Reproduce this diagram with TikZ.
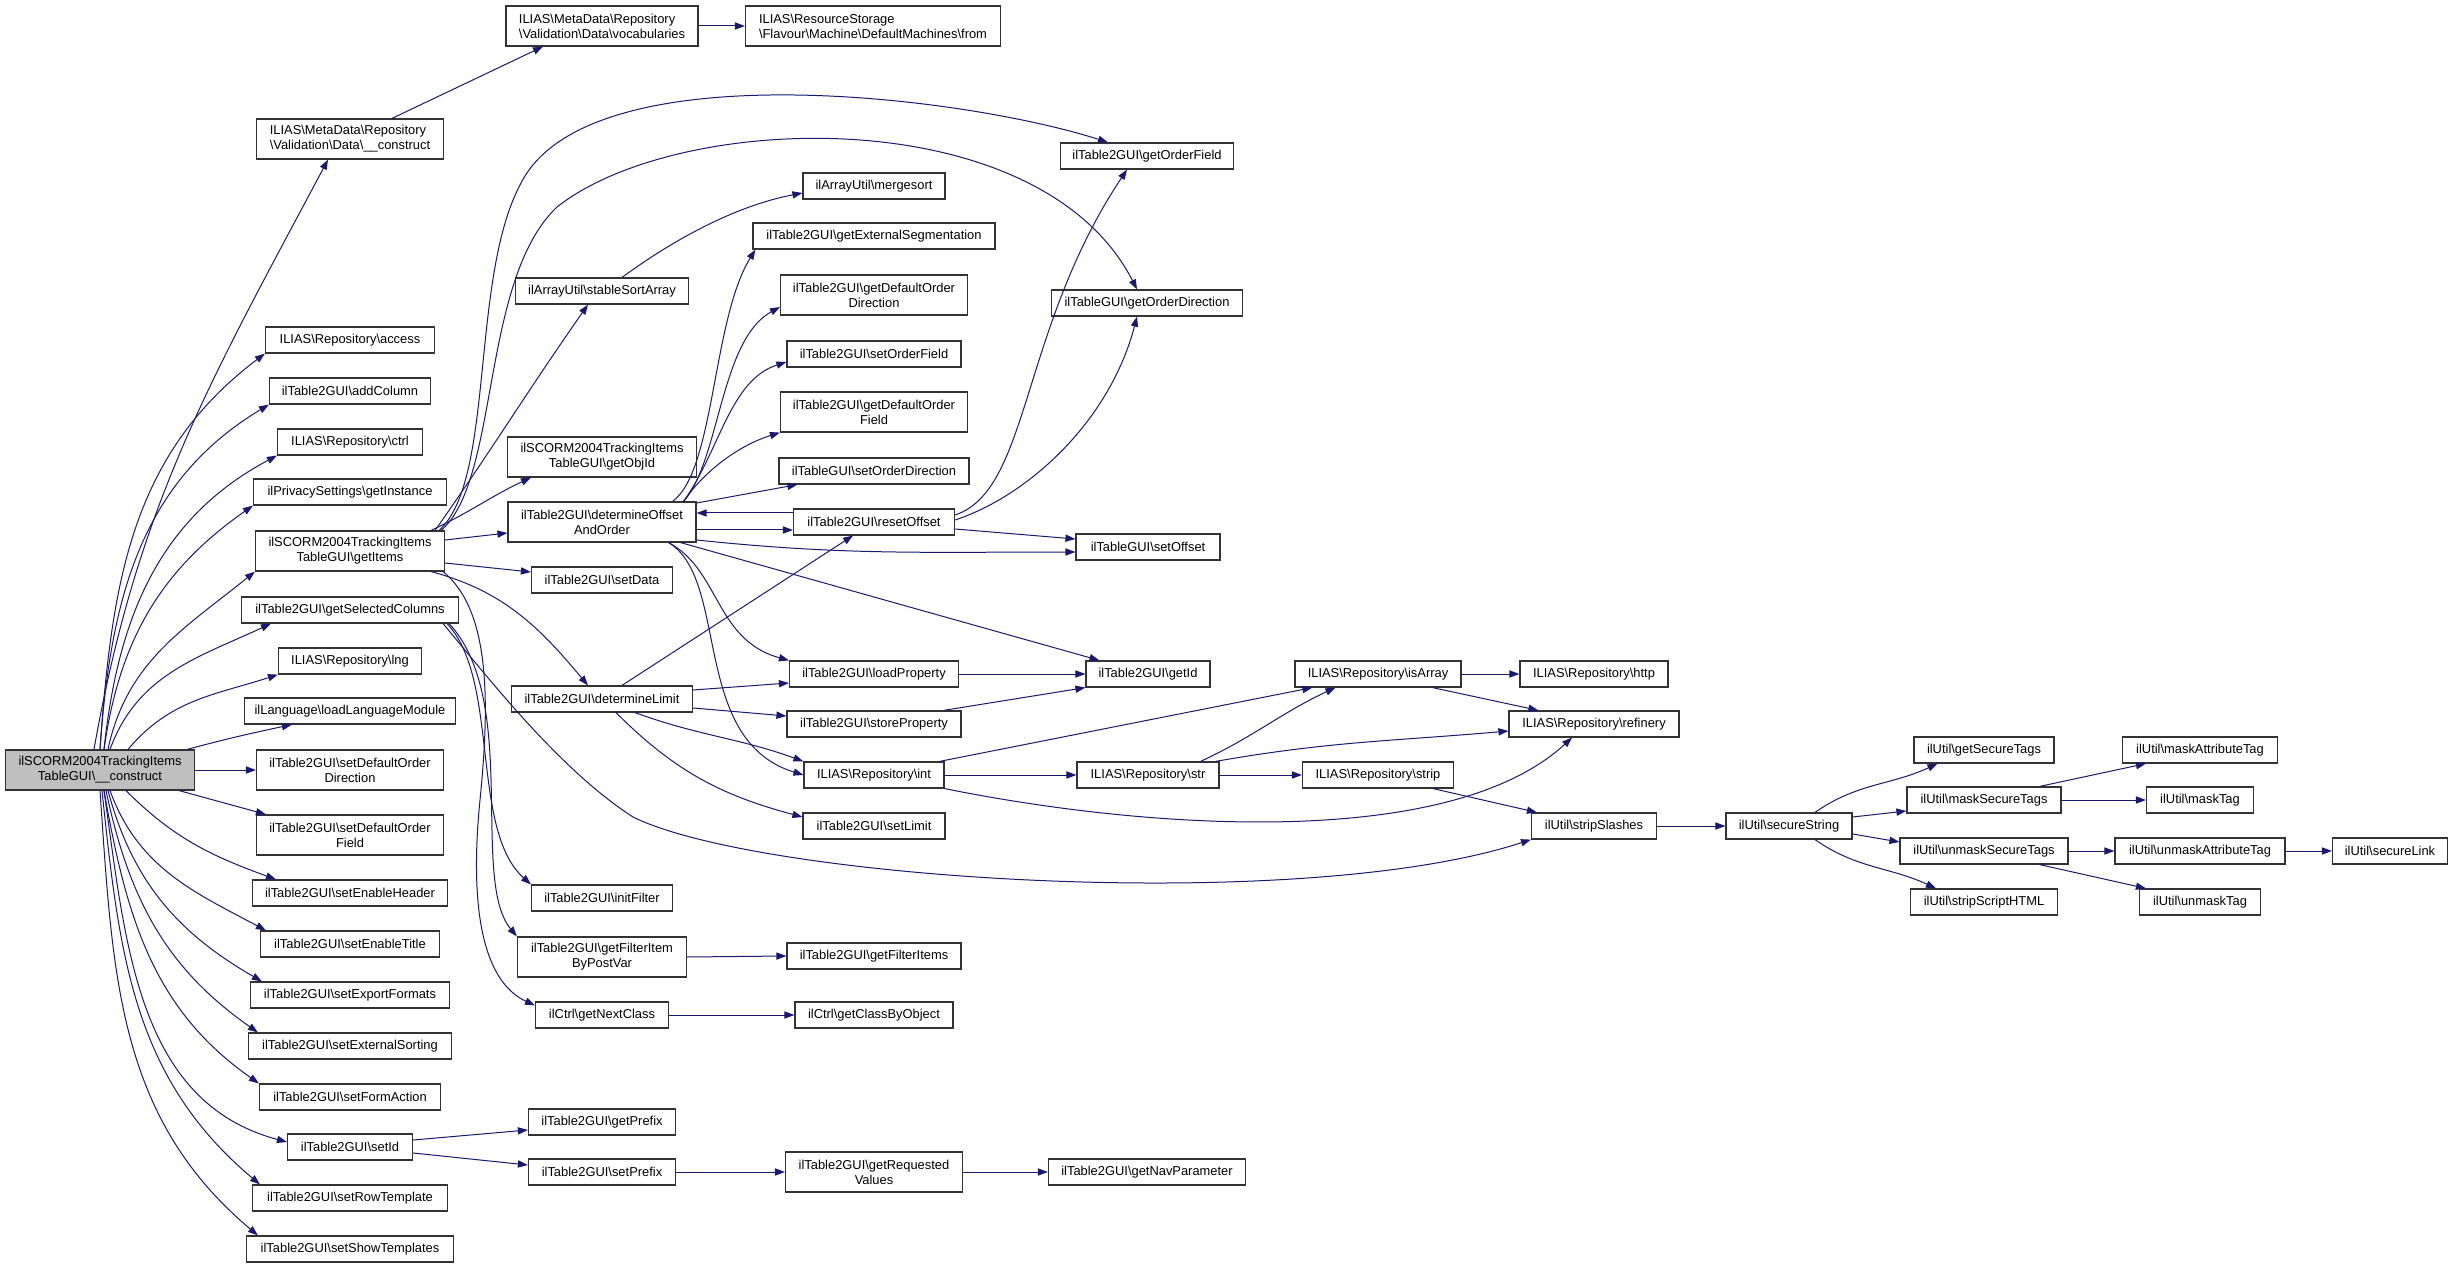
\documentclass[tikz,border=0pt]{standalone}
\usepackage{fontspec}
\setmainfont{Liberation Sans}
\usetikzlibrary{arrows.meta}
\definecolor{edgeblue}{HTML}{191970}
\definecolor{boxgray}{HTML}{333333}
\definecolor{maingray}{HTML}{BFBFBF}
\newcommand{\bsl}{\textbackslash}
\tikzset{
  fn/.style={draw=boxgray, line width=0.6pt, fill=white, inner sep=1pt,
    minimum height=13pt, align=center, font=\fontsize{6.45}{7.5}\selectfont},
  fn2/.style={fn, minimum height=20pt},
  wd/.style={minimum width=#1*0.5pt},
  call/.style={draw=edgeblue, line width=0.5pt, -{Triangle[length=5pt,width=3.6pt]}},
}
\begin{document}
\begin{tikzpicture}[x=0.5pt,y=-0.5pt]
  \path[fill=white] (0,0) rectangle (2453,1267);

  % the function itself
  \node[fn2, fill=maingray, wd=189] (main) at (100,770) {ilSCORM2004TrackingItems\\TableGUI\bsl\_\_construct};

  % first level
  \node[fn2, wd=187, align=left] (dataCon) at (350,139) {ILIAS\bsl MetaData\bsl Repository\\\bsl Validation\bsl Data\bsl\_\_construct};
  \node[fn, wd=169] (access) at (350,340) {ILIAS\bsl Repository\bsl access};
  \node[fn, wd=161] (addColumn) at (350,391) {ilTable2GUI\bsl addColumn};
  \node[fn, wd=145] (ctrl) at (350,442) {ILIAS\bsl Repository\bsl ctrl};
  \node[fn, wd=193] (getInstance) at (350,492) {ilPrivacySettings\bsl getInstance};
  \node[fn2, wd=189] (getItems) at (350,551) {ilSCORM2004TrackingItems\\TableGUI\bsl getItems};
  \node[fn, wd=217] (getSelCols) at (350,610) {ilTable2GUI\bsl getSelectedColumns};
  \node[fn, wd=143] (lng) at (350,661) {ILIAS\bsl Repository\bsl lng};
  \node[fn, wd=211] (loadLang) at (350,711) {ilLanguage\bsl loadLanguageModule};
  \node[fn2, wd=187] (setDefDir) at (350,770) {ilTable2GUI\bsl setDefaultOrder\\Direction};
  \node[fn2, wd=187] (setDefField) at (350,835) {ilTable2GUI\bsl setDefaultOrder\\Field};
  \node[fn, wd=195] (setEnHeader) at (350,893) {ilTable2GUI\bsl setEnableHeader};
  \node[fn, wd=179] (setEnTitle) at (350,944) {ilTable2GUI\bsl setEnableTitle};
  \node[fn, wd=199] (setExport) at (350,995) {ilTable2GUI\bsl setExportFormats};
  \node[fn, wd=203] (setExtSort) at (350,1046) {ilTable2GUI\bsl setExternalSorting};
  \node[fn, wd=181] (setFormAction) at (350,1097) {ilTable2GUI\bsl setFormAction};
  \node[fn, wd=125] (setId) at (350,1147) {ilTable2GUI\bsl setId};
  \node[fn, wd=195] (setRowTpl) at (350,1198) {ilTable2GUI\bsl setRowTemplate};
  \node[fn, wd=207] (setShowTpl) at (350,1249) {ilTable2GUI\bsl setShowTemplates};

  % second level
  \node[fn2, wd=192, align=left] (vocab) at (602,26) {ILIAS\bsl MetaData\bsl Repository\\\bsl Validation\bsl Data\bsl vocabularies};
  \node[fn, wd=173] (stableSort) at (602,291) {ilArrayUtil\bsl stableSortArray};
  \node[fn2, wd=189] (getObjId) at (602,457) {ilSCORM2004TrackingItems\\TableGUI\bsl getObjId};
  \node[fn2, wd=188] (detOffset) at (602,522) {ilTable2GUI\bsl determineOffset\\AndOrder};
  \node[fn, wd=141] (setData) at (602,580) {ilTable2GUI\bsl setData};
  \node[fn, wd=181] (detLimit) at (602,699) {ilTable2GUI\bsl determineLimit};
  \node[fn, wd=141] (initFilter) at (602,898) {ilTable2GUI\bsl initFilter};
  \node[fn2, wd=169] (getFilterItem) at (602,957) {ilTable2GUI\bsl getFilterItem\\ByPostVar};
  \node[fn, wd=133] (getNextClass) at (602,1015) {ilCtrl\bsl getNextClass};
  \node[fn, wd=147] (getPrefix) at (602,1122) {ilTable2GUI\bsl getPrefix};
  \node[fn, wd=147] (setPrefix) at (602,1172) {ilTable2GUI\bsl setPrefix};

  % third level
  \node[fn2, wd=255, align=left] (from) at (873,26) {ILIAS\bsl ResourceStorage\\\bsl Flavour\bsl Machine\bsl DefaultMachines\bsl from};
  \node[fn, wd=142] (mergesort) at (874,186) {ilArrayUtil\bsl mergesort};
  \node[fn, wd=242] (getExtSeg) at (874,236) {ilTable2GUI\bsl getExternalSegmentation};
  \node[fn2, wd=187] (getDefDir) at (874,295) {ilTable2GUI\bsl getDefaultOrder\\Direction};
  \node[fn, wd=174] (setOrderField) at (874,354) {ilTable2GUI\bsl setOrderField};
  \node[fn2, wd=187] (getDefField) at (874,412) {ilTable2GUI\bsl getDefaultOrder\\Field};
  \node[fn, wd=190] (setOrderDir) at (874,471) {ilTableGUI\bsl setOrderDirection};
  \node[fn, wd=161] (resetOffset) at (874,522) {ilTable2GUI\bsl resetOffset};
  \node[fn, wd=169] (loadProp) at (874,674) {ilTable2GUI\bsl loadProperty};
  \node[fn, wd=174] (storeProp) at (874,724) {ilTable2GUI\bsl storeProperty};
  \node[fn, wd=140] (int) at (874,775) {ILIAS\bsl Repository\bsl int};
  \node[fn, wd=142] (setLimit) at (874,826) {ilTable2GUI\bsl setLimit};
  \node[fn, wd=174] (getFilterItems) at (874,956) {ilTable2GUI\bsl getFilterItems};
  \node[fn, wd=158] (getClassByObj) at (874,1015) {ilCtrl\bsl getClassByObject};
  \node[fn2, wd=177] (getReqValues) at (874,1172) {ilTable2GUI\bsl getRequested\\Values};

  % fourth level and beyond
  \node[fn, wd=173] (getOrderField) at (1147,156) {ilTable2GUI\bsl getOrderField};
  \node[fn, wd=191] (getOrderDir) at (1147,303) {ilTableGUI\bsl getOrderDirection};
  \node[fn, wd=144] (setOffset) at (1148,547) {ilTableGUI\bsl setOffset};
  \node[fn, wd=124] (getId) at (1148,674) {ilTable2GUI\bsl getId};
  \node[fn, wd=142] (str) at (1148,775) {ILIAS\bsl Repository\bsl str};
  \node[fn, wd=197] (getNavParam) at (1147,1172) {ilTable2GUI\bsl getNavParameter};
  \node[fn, wd=166] (isArray) at (1378,674) {ILIAS\bsl Repository\bsl isArray};
  \node[fn, wd=151] (strip) at (1378,775) {ILIAS\bsl Repository\bsl strip};
  \node[fn, wd=148] (http) at (1594,674) {ILIAS\bsl Repository\bsl http};
  \node[fn, wd=170] (refinery) at (1594,724) {ILIAS\bsl Repository\bsl refinery};
  \node[fn, wd=125] (stripSlashes) at (1594,826) {ilUtil\bsl stripSlashes};
  \node[fn, wd=126] (secureString) at (1789,826) {ilUtil\bsl secureString};
  \node[fn, wd=140] (getSecureTags) at (1984,750) {ilUtil\bsl getSecureTags};
  \node[fn, wd=154] (maskSecureTags) at (1984,800) {ilUtil\bsl maskSecureTags};
  \node[fn, wd=168] (unmaskSecureTags) at (1984,851) {ilUtil\bsl unmaskSecureTags};
  \node[fn, wd=147] (stripScript) at (1984,902) {ilUtil\bsl stripScriptHTML};
  \node[fn, wd=155] (maskAttrTag) at (2200,750) {ilUtil\bsl maskAttributeTag};
  \node[fn, wd=107] (maskTag) at (2200,800) {ilUtil\bsl maskTag};
  \node[fn, wd=170] (unmaskAttrTag) at (2200,851) {ilUtil\bsl unmaskAttributeTag};
  \node[fn, wd=121] (unmaskTag) at (2200,902) {ilUtil\bsl unmaskTag};
  \node[fn, wd=115] (secureLink) at (2390,851) {ilUtil\bsl secureLink};

  % calls of the constructor
  \draw[call] ([xshift=-3pt]main.north) to[out=80,in=-118] ([xshift=-11pt]dataCon.south);
  \draw[call] (main.north) to[out=86,in=-143] (access.south west);
  \draw[call] (main.north) to[out=86,in=-149] (addColumn.south west);
  \draw[call] ([xshift=2pt]main.north) to[out=84,in=-152] (ctrl.south west);
  \draw[call] ([xshift=2pt]main.north) to[out=82,in=-145] (getInstance.south west);
  \draw[call] ([xshift=4pt]main.north) to[out=78,in=-141] (getItems.south west);
  \draw[call] ([xshift=5pt]main.north) to[out=70,in=-155] ([xshift=15pt]getSelCols.south west);
  \draw[call] ([xshift=14pt]main.north) to[out=50,in=-162] (lng.south west);
  \draw[call] ([xshift=-4pt]main.north east) to[out=15,in=-168] ([xshift=24pt]loadLang.south west);
  \draw[call] (main.east) -- (setDefDir.west);
  \draw[call] ([xshift=-8pt]main.south east) -- ([xshift=5pt]setDefField.north west);
  \draw[call] ([xshift=13pt]main.south) to[out=-45,in=160] ([xshift=12pt]setEnHeader.north west);
  \draw[call] ([xshift=5pt]main.south) to[out=-70,in=152] ([xshift=3pt]setEnTitle.north west);
  \draw[call] ([xshift=4pt]main.south) to[out=-75,in=150] ([xshift=6pt]setExport.north west);
  \draw[call] ([xshift=3pt]main.south) to[out=-78,in=145] ([xshift=5pt]setExtSort.north west);
  \draw[call] ([xshift=2pt]main.south) to[out=-80,in=145] (setFormAction.north west);
  \draw[call] ([xshift=2pt]main.south) to[out=-82,in=165] ([yshift=2.5pt]setId.west);
  \draw[call] ([xshift=1pt]main.south) to[out=-84,in=140] ([xshift=4pt]setRowTpl.north west);
  \draw[call] (main.south) to[out=-86,in=140] ([xshift=6pt]setShowTpl.north west);

  \draw[call] ([xshift=21pt]dataCon.north) -- ([xshift=-29.5pt]vocab.south);
  \draw[call] (vocab.east) -- (from.west);

  % getItems
  \draw[call] ([xshift=-3pt]getItems.north east) .. controls (495,480) and (470,280) .. (520,185)
    .. controls (585,50) and (960,95) .. ([xshift=-19.5pt]getOrderField.north);
  \draw[call] ([xshift=-2pt]getItems.north east) .. controls (500,480) and (480,280) .. (557,207)
    .. controls (680,110) and (1040,100) .. ([xshift=-5pt]getOrderDir.north);
  \draw[call] ([xshift=-5pt]getItems.north east) to[out=55,in=-125] ([xshift=-7pt]stableSort.south);
  \draw[call] ([xshift=-7pt]getItems.north east) to[out=25,in=-155] ([xshift=12pt]getObjId.south west);
  \draw[call] ([yshift=5.5pt]getItems.east) -- ([yshift=-5.5pt]detOffset.west);
  \draw[call] ([yshift=-6pt]getItems.east) -- ([yshift=4pt]setData.west);
  \draw[call] ([xshift=-7pt]getItems.south east) to[out=-15,in=130] ([xshift=-7pt]detLimit.north);
  \draw[call] ([xshift=-1pt]getItems.south east) .. controls (490,610) and (490,700) .. (480,800)
    .. controls (470,900) and (480,980) .. ([yshift=-2pt]getNextClass.north west);

  % getSelectedColumns
  \draw[call] ([xshift=-6pt]getSelCols.south east) .. controls (500,680) and (470,830) .. (initFilter.north west);
  \draw[call] ([xshift=-5pt]getSelCols.south east) .. controls (520,700) and (470,880) .. (getFilterItem.north west);
  \draw[call] ([xshift=-8pt]getSelCols.south east) .. controls (490,680) and (560,770) .. (633,817)
    .. controls (760,880) and (1300,915) .. (stripSlashes.south west);

  % determineOffsetAndOrder
  \draw[call] ([xshift=-12pt]detOffset.north east) .. controls (715,470) and (712,320) .. ([xshift=1.5pt]getExtSeg.south west);
  \draw[call] ([xshift=-6.5pt]detOffset.north east) .. controls (720,460) and (720,340) .. ([yshift=-6pt]getDefDir.west);
  \draw[call] ([xshift=-6.5pt]detOffset.north east) .. controls (720,450) and (730,380) .. ([yshift=-4pt]setOrderField.west);
  \draw[call] ([xshift=-6.5pt]detOffset.north east) .. controls (705,470) and (740,445) .. (getDefField.south west);
  \draw[call] ([yshift=9.5pt]detOffset.east) -- ([xshift=9.5pt]setOrderDir.south west);
  \draw[call] ([yshift=-4pt]detOffset.east) -- ([yshift=-4pt]resetOffset.west);
  \draw[call] ([yshift=4.5pt]resetOffset.west) -- ([yshift=4.5pt]detOffset.east);
  \draw[call] ([yshift=-9pt]detOffset.east) to[out=-6,in=180] ([yshift=-2.5pt]setOffset.west);
  \draw[call] ([xshift=-8pt]detOffset.south east) -- ([xshift=7pt]getId.north west);
  \draw[call] ([xshift=-14pt]detOffset.south east) .. controls (720,570) and (715,640) .. (loadProp.north west);
  \draw[call] ([xshift=-14pt]detOffset.south east) .. controls (730,580) and (690,740) .. (int.west);

  % resetOffset
  \draw[call] ([yshift=3.5pt]resetOffset.east) .. controls (1030,490) and (1020,330) .. ([xshift=-10pt]getOrderField.south);
  \draw[call] ([yshift=1pt]resetOffset.east) .. controls (1030,495) and (1110,420) .. ([xshift=-5pt]getOrderDir.south);
  \draw[call] ([yshift=-3.5pt]resetOffset.east) -- ([yshift=4pt]setOffset.west);

  % determineLimit
  \draw[call] ([xshift=10pt]detLimit.north) -- ([xshift=-10.5pt]resetOffset.south);
  \draw[call] ([yshift=4.5pt]detLimit.east) -- ([yshift=-4.5pt]loadProp.west);
  \draw[call] ([yshift=-4.5pt]detLimit.east) -- ([yshift=4pt]storeProp.west);
  \draw[call] ([xshift=16.5pt]detLimit.south) to[out=-20,in=160] (int.north west);
  \draw[call] ([xshift=7pt]detLimit.south) to[out=-45,in=165] ([yshift=4.5pt]setLimit.west);

  \draw[call] (loadProp.east) -- (getId.west);
  \draw[call] ([xshift=-9pt]storeProp.north east) -- (getId.south west);

  % int, str and the repository
  \draw[call] ([xshift=-2.5pt]int.north east) -- ([xshift=9pt]isArray.south west);
  \draw[call] (int.east) -- (str.west);
  \draw[call] (int.south east) .. controls (1150,830) and (1450,850) .. ([xshift=-11pt]refinery.south);
  \draw[call] ([xshift=-9.5pt]str.north east) to[out=25,in=-155] ([xshift=20.5pt]isArray.south west);
  \draw[call] ([xshift=-2pt]str.north east) to[out=10,in=-175] ([yshift=-3.5pt]refinery.west);
  \draw[call] (str.east) -- (strip.west);
  \draw[call] (isArray.east) -- (http.west);
  \draw[call] ([xshift=-14.5pt]isArray.south east) -- ([xshift=15pt]refinery.north west);
  \draw[call] ([xshift=-10.5pt]strip.south east) -- ([xshift=3pt]stripSlashes.north west);

  % ilUtil
  \draw[call] (stripSlashes.east) -- (secureString.west);
  \draw[call] ([xshift=13pt]secureString.north) to[out=35,in=-155] ([xshift=12pt]getSecureTags.south west);
  \draw[call] ([yshift=4.5pt]secureString.east) -- ([yshift=-5.5pt]maskSecureTags.west);
  \draw[call] ([yshift=-4pt]secureString.east) -- ([yshift=4.5pt]unmaskSecureTags.west);
  \draw[call] ([xshift=13pt]secureString.south) to[out=-35,in=155] ([xshift=13pt]stripScript.north west);
  \draw[call] ([xshift=-11pt]maskSecureTags.north east) -- ([xshift=12pt]maskAttrTag.south west);
  \draw[call] (maskSecureTags.east) -- (maskTag.west);
  \draw[call] (unmaskSecureTags.east) -- (unmaskAttrTag.west);
  \draw[call] ([xshift=-14.5pt]unmaskSecureTags.south east) -- ([xshift=3.5pt]unmaskTag.north west);
  \draw[call] (unmaskAttrTag.east) -- (secureLink.west);

  % remaining chains
  \draw[call] ([xshift=10pt]stableSort.north) .. controls (680,235) and (740,205) .. ([yshift=-3.5pt]mergesort.west);
  \draw[call] (getFilterItem.east) -- (getFilterItems.west);
  \draw[call] (getNextClass.east) -- (getClassByObj.west);
  \draw[call] ([yshift=3.5pt]setId.east) -- ([yshift=-4pt]getPrefix.west);
  \draw[call] ([yshift=-3pt]setId.east) -- ([yshift=3.5pt]setPrefix.west);
  \draw[call] (setPrefix.east) -- (getReqValues.west);
  \draw[call] (getReqValues.east) -- (getNavParam.west);
\end{tikzpicture}
\end{document}
